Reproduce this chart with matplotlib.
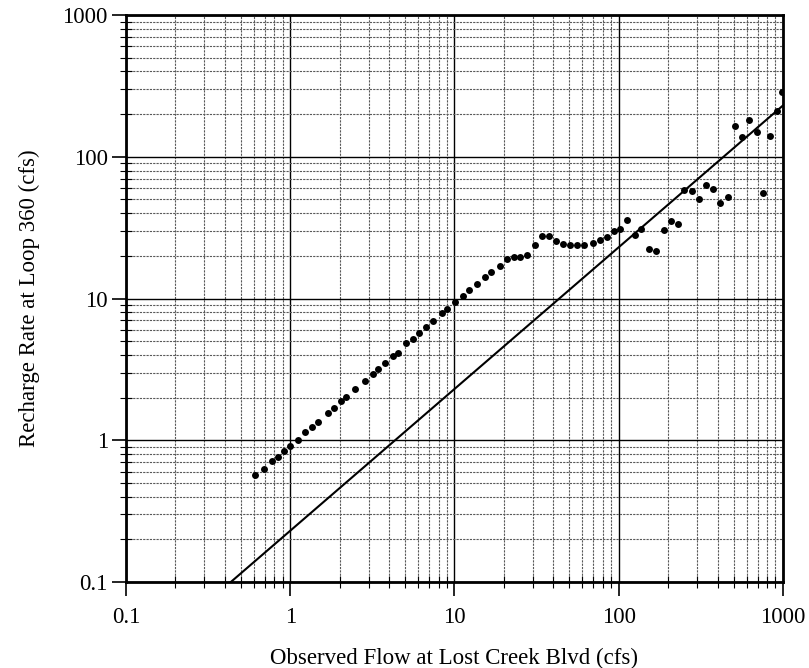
import numpy as np
import matplotlib.pyplot as plt
from matplotlib.ticker import LogLocator, FixedLocator, NullFormatter

plt.rcParams['font.family'] = ['Liberation Serif', 'DejaVu Serif']

# observed flow at Lost Creek Blvd (cfs)
flow = [0.612, 0.694, 0.773, 0.837, 0.923, 1.0, 1.114, 1.234, 1.362, 1.475,
        1.69, 1.85, 2.05, 2.19, 2.49, 2.85, 3.18, 3.41, 3.76, 4.21,
        4.51, 5.10, 5.57, 6.12, 6.72, 7.41, 8.41, 9.07, 10.1, 11.2,
        12.3, 13.7, 15.4, 16.7, 18.9, 20.8, 23.0, 25.2, 27.5, 30.8,
        34.1, 37.4, 41.3, 45.7, 50.5, 55.7, 61.4, 70.1, 76.9, 84.5,
        93.6, 101.8, 113, 125.7, 136.8, 152, 168, 189, 208, 230,
        250, 281, 309, 339, 376, 415, 462, 510, 560, 621,
        692, 759, 837, 915, 982]

# recharge rate at Loop 360 (cfs)
recharge = [0.566, 0.624, 0.711, 0.758, 0.836, 0.911, 1.0, 1.138, 1.235, 1.34,
            1.55, 1.68, 1.89, 2.01, 2.29, 2.62, 2.92, 3.17, 3.49, 3.90,
            4.16, 4.84, 5.16, 5.72, 6.31, 6.92, 7.87, 8.40, 9.42, 10.4,
            11.5, 12.6, 14.1, 15.4, 17.1, 18.9, 19.6, 19.5, 20.2, 23.9,
            27.5, 27.7, 25.4, 24.3, 23.9, 23.9, 23.9, 24.7, 25.9, 27.1,
            29.9, 31.0, 35.7, 28.1, 30.8, 22.3, 21.6, 30.3, 35.1, 33.4,
            58.4, 57.2, 50.2, 63.4, 59.4, 47.1, 52.1, 164, 137, 182,
            150, 55.6, 140, 210, 286]

# reference line: recharge = 0.23 * flow
ratio = 0.23
line_x = [0.1, 1000]

major = [0.1, 1, 10, 100, 1000]
tick_labels = ["0.1", "1", "10", "100", "1000"]

fig = plt.figure(figsize=(8.09, 6.68), dpi=100)
ax = fig.add_axes([0.1557, 0.1287, 0.8121, 0.8488])

ax.set_xscale("log")
ax.set_yscale("log")
ax.set_xlim(0.1, 1000)
ax.set_ylim(0.1, 1000)

for axis in (ax.xaxis, ax.yaxis):
    axis.set_major_locator(FixedLocator(major))
    axis.set_minor_locator(LogLocator(base=10, subs=np.arange(2, 10)))
    axis.set_minor_formatter(NullFormatter())
ax.set_xticklabels(tick_labels)
ax.set_yticklabels(tick_labels)

ax.grid(which="major", color="black", linewidth=1.0, linestyle="-")
ax.grid(which="minor", color="0.35", linewidth=0.8, linestyle=(0, (2, 1)))
ax.set_axisbelow(True)

ax.plot(line_x, [ratio * v for v in line_x], color="black", linewidth=1.5)
ax.plot(flow, recharge, "o", color="black", markersize=5, markeredgewidth=0)

for s in ax.spines.values():
    s.set_linewidth(2)

ax.tick_params(which="major", direction="out", length=10, width=1.2,
               labelsize=16.5)
ax.tick_params(axis="x", which="major", pad=8)
ax.tick_params(axis="y", which="major", pad=3)
ax.tick_params(which="minor", direction="inout", length=8, width=0.8)

ax.set_xlabel("Observed Flow at Lost Creek Blvd (cfs)", fontsize=16.5, labelpad=14)
ax.set_ylabel("Recharge Rate at Loop 360 (cfs)", fontsize=16.5, labelpad=16)

fig.savefig("out.png", dpi=100)
